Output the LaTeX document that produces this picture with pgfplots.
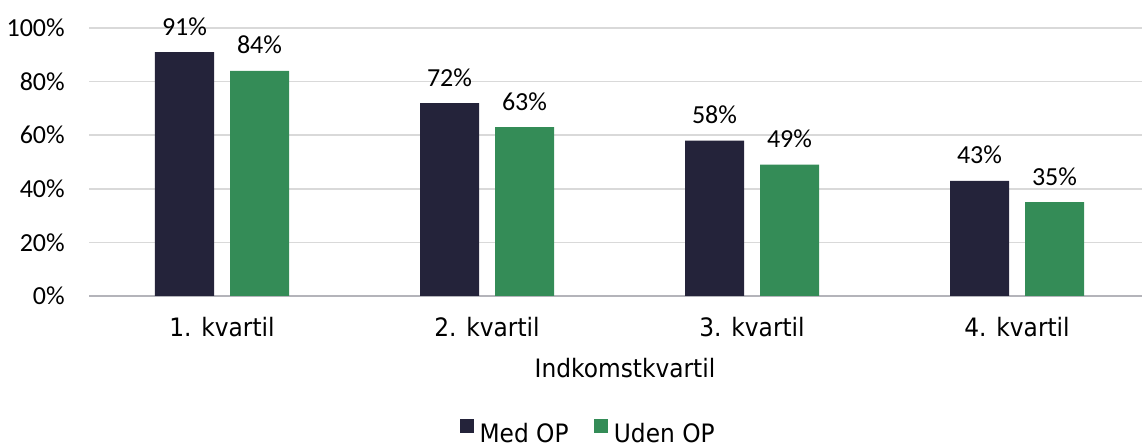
\documentclass[border=0pt]{standalone}
\usepackage{pgfplots}
\pgfplotsset{compat=1.18}
\usepackage{fontspec}
\setmainfont{DejaVu Sans}[FakeStretch=0.92]
\newfontfamily\numfont{Carlito}
\definecolor{medop}{HTML}{24233A}
\definecolor{udenop}{HTML}{348C57}
\definecolor{gridgray}{HTML}{D9D9D9}
\definecolor{axisgray}{HTML}{B4B4BA}
\begin{document}
\begin{tikzpicture}[font=\fontsize{19}{22}\selectfont]
\path[use as bounding box] (-67.125pt,-114pt) rectangle (789.375pt,222pt);
\begin{axis}[
    at={(0,0)}, anchor=south west,
    x=198.75pt, y=2.01pt,
    xmin=-0.5, xmax=3.47,
    ymin=0, ymax=100,
    ybar=12pt, bar width=44.25pt,
    axis x line*=bottom, axis y line*=left,
    y axis line style={draw=none},
    x axis line style={draw=axisgray, line width=1.3pt},
    ymajorgrids, grid style={gridgray, line width=1.1pt},
    major tick length=0pt,
    xtick={0,1,2,3},
    xticklabels={1. kvartil, 2. kvartil, 3. kvartil, 4. kvartil},
    ytick={0,20,40,60,80,100},
    yticklabel={\pgfmathprintnumber{\tick}\%},
    /pgf/number format/assume math mode=true,
    yticklabel style={anchor=east, inner sep=0pt, xshift=-18.4pt, font=\fontsize{19.5}{22}\numfont},
    xticklabel style={anchor=north, inner sep=0pt, yshift=-16pt},
    xlabel={Indkomstkvartil},
    xlabel style={at={(axis description cs:0.509,0)}, anchor=north, inner sep=0pt, yshift=-46.5pt},
    clip=false,
    nodes near coords={\pgfmathprintnumber{\pgfplotspointmeta}\%},
    every node near coord/.append style={anchor=base, inner sep=0pt, yshift=12.75pt, black, font=\fontsize{19.5}{22}\numfont},
    legend columns=2,
    legend style={draw=none, fill=none, at={(0.473,-0.548)}, anchor=south, inner sep=0pt,
        /tikz/every even column/.append style={column sep=19pt},
        nodes={inner sep=0pt, text depth=0pt}, column sep=4.5pt},
    legend image code/.code={\fill[#1] (0pt,0pt) rectangle (10.5pt,10.5pt);},
]
\addplot[fill=medop, draw=none] coordinates {(0,91) (1,72) (2,58) (3,43)};
\addplot[fill=udenop, draw=none] coordinates {(0,84) (1,63) (2,49) (3,35)};
\legend{Med OP, Uden OP}
\end{axis}
\end{tikzpicture}
\end{document}
